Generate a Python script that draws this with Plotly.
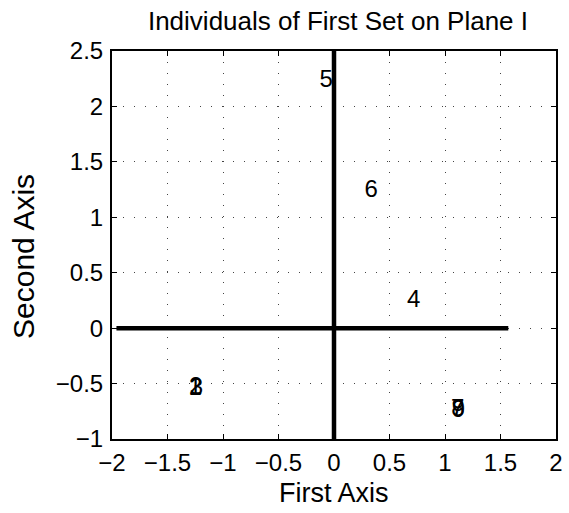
import plotly.graph_objects as go

# Data: individual labels and their positions on plane I
labels = ["1", "2", "3", "4", "5", "6", "7", "8", "9"]
first_axis = [-1.25, -1.245, -1.24, 0.718, -0.07, 0.335, 1.115, 1.117, 1.12]
second_axis = [-0.545, -0.54, -0.545, 0.248, 2.225, 1.24, -0.74, -0.742, -0.745]

# Reference axis lines
h_line_x = [-1.96, 1.57]
h_line_y = [0, 0]
v_line_x = [0, 0]
v_line_y = [-1, 2.5]

x_ticks = [-2, -1.5, -1, -0.5, 0, 0.5, 1, 1.5, 2]
x_ticktext = ["\u22122", "\u22121.5", "\u22121", "\u22120.5", "0", "0.5", "1", "1.5", "2"]
y_ticks = [-1, -0.5, 0, 0.5, 1, 1.5, 2, 2.5]
y_ticktext = ["\u22121", "\u22120.5", "0", "0.5", "1", "1.5", "2", "2.5"]

FONT = "Liberation Sans, Arial, Helvetica, sans-serif"

fig = go.Figure()
fig.add_trace(go.Scatter(x=h_line_x, y=h_line_y, mode="lines",
                         line=dict(color="black", width=4.5), hoverinfo="skip"))
fig.add_trace(go.Scatter(x=v_line_x, y=v_line_y, mode="lines",
                         line=dict(color="black", width=4.5), hoverinfo="skip"))
fig.add_trace(go.Scatter(x=first_axis, y=second_axis, mode="text", text=labels,
                         textposition="middle center", cliponaxis=False,
                         textfont=dict(family=FONT, size=24, color="black")))

axis_common = dict(
    showline=True, linecolor="black", linewidth=2, mirror="ticks",
    ticks="inside", ticklen=5, tickwidth=1, tickcolor="black",
    showgrid=True, gridcolor="#444", gridwidth=1, griddash="1px,10px",
    zeroline=False, tickfont=dict(family=FONT, size=24, color="black"),
    automargin=False,
)

fig.update_xaxes(range=[-2, 2], tickvals=x_ticks, ticktext=x_ticktext,
                 ticklabelstandoff=1, **axis_common)
fig.update_yaxes(range=[-1, 2.5], tickvals=y_ticks, ticktext=y_ticktext,
                 ticklabelstandoff=2, **axis_common)

fig.update_layout(
    width=569, height=513,
    margin=dict(l=112, r=13, t=51, b=74, autoexpand=False),
    paper_bgcolor="white", plot_bgcolor="white",
    showlegend=False,
    title=dict(text="Individuals of First Set on Plane I", x=0.509, xref="paper",
               xanchor="center",
               y=1 - 21 / 513, yanchor="middle", yref="container",
               font=dict(family=FONT, size=26, color="black")),
    annotations=[
        dict(text="First Axis", xref="paper", yref="paper", x=0.5, y=0,
             yshift=-54, xanchor="center", yanchor="middle", showarrow=False,
             font=dict(family=FONT, size=27, color="black")),
        dict(text="Second Axis", xref="paper", yref="paper", x=0, y=0.5,
             xshift=-89, yshift=-12, xanchor="center", yanchor="middle",
             showarrow=False, textangle=-90,
             font=dict(family=FONT, size=30, color="black")),
    ],
)

fig.write_html("out.html", config={"displayModeBar": False},
               post_script="document.body.style.margin='0';document.body.style.overflow='hidden';")
